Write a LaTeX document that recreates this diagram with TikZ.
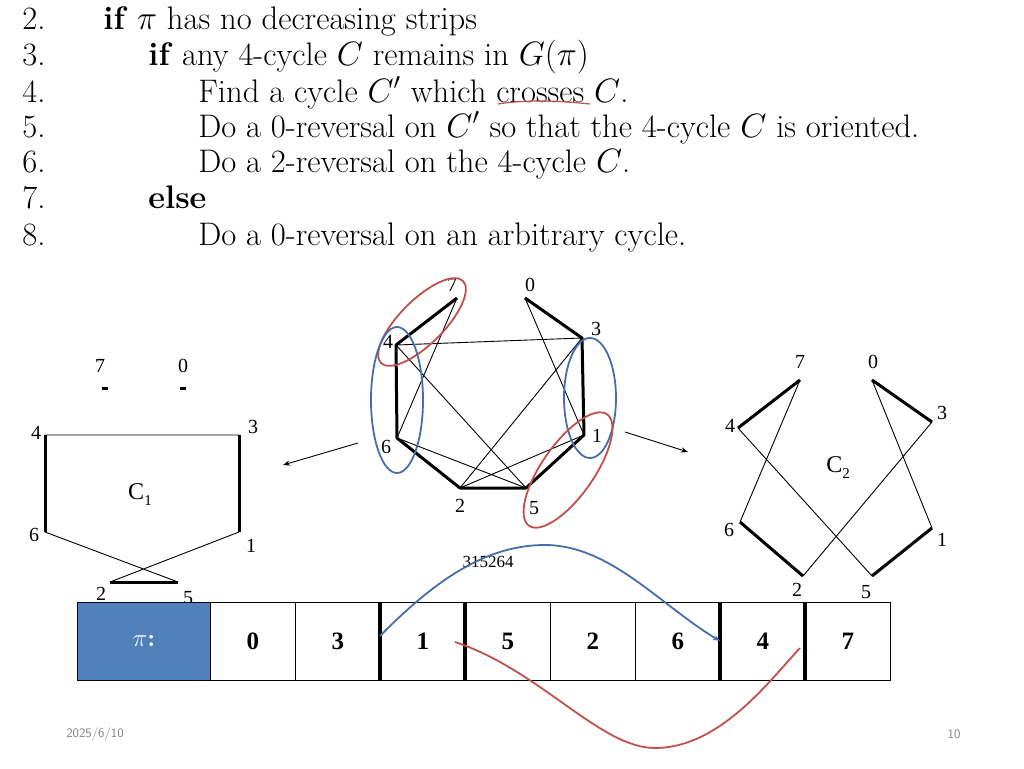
\documentclass[tikz,border=0pt]{standalone}
\usepackage{fontspec}
\newfontfamily\tms{Liberation Serif}
\usetikzlibrary{arrows.meta}
\definecolor{myred}{RGB}{192,80,77}
\definecolor{myblue}{RGB}{70,110,170}
\definecolor{pifill}{RGB}{79,129,189}
\begin{document}
\begin{tikzpicture}[x=1pt,y=-1pt,
 code/.style={anchor=base west,inner sep=0pt,font=\fontsize{20}{24}\selectfont,scale=1.63,transform shape},
 lab/.style={inner sep=0pt,font=\tms\fontsize{20}{22}\selectfont},
 thk/.style={line width=3pt},
 thn/.style={line width=0.9pt},
 cell/.style={draw,line width=0.8pt,minimum width=85pt,minimum height=78pt,anchor=north west,inner sep=0pt,font=\tms\bfseries\fontsize{25}{28}\selectfont},
 bar/.style={line width=3.5pt},
 rell/.style={draw=myred,line width=1.8pt},
 bell/.style={draw=myblue,line width=1.8pt}]
\useasboundingbox (0,0) rectangle (1024,768);
% pseudocode
\foreach \n/\y in {2/30,3/66,4/102,5/137,6/172,7/208,8/245}
  \node[code] (num\n) at (22,\y) {\n.};
\node[code] (l2) at (103,30) {\textbf{if} $\pi$ has no decreasing strips};
\node[code] (l3) at (148,66) {\textbf{if} any 4-cycle $C$ remains in $G(\pi)$};
\node[code] (l4) at (198,102) {Find a cycle $C'$ which crosses $C$.};
\node[code] (l5) at (198,137) {Do a 0-reversal on $C'$ so that the 4-cycle $C$ is oriented.};
\node[code] (l6) at (198,172) {Do a 2-reversal on the 4-cycle $C$.};
\node[code] (l7) at (148,208) {\textbf{else}};
\node[code] (l8) at (198,245) {Do a 0-reversal on an arbitrary cycle.};
\draw[myred,line width=1.2pt] (498,104) .. controls (530,99) and (560,101) .. (590,104);
% middle graph
\foreach \n/\x/\y in {7/457/298,0/525/298,4/396/345,3/582/338,6/397/438,1/584/435,2/460/488,5/526/488}
  \coordinate (m\n) at (\x,\y);
\foreach \n/\x/\y in {7/452/285,0/530/285,4/388/342,3/596/329,6/386/447,1/597/436,2/460/506,5/534/508}
  \node[lab] (ml\n) at (\x,\y) {\n};
\draw[thk,line join=round] (m7)--(m4)--(m6)--(m2)--(m5)--(m1)--(m3)--(m0);
\draw[thn] (m4)--(m3) (m7)--(m6) (m4)--(m5) (m6)--(m5) (m2)--(m3) (m2)--(m1) (m0)--(m1);
\draw[rell,rotate around={45:(422,322)}] (422,322) ellipse (58 and 22);
\draw[bell] (397,400) ellipse (26 and 73);
\draw[bell] (590,398) ellipse (26 and 60);
\draw[rell,rotate around={55:(568,470)}] (568,470) ellipse (68 and 26);
\coordinate (a1s) at (358,443); \coordinate (a1e) at (283,465);
\coordinate (a2s) at (625,432); \coordinate (a2e) at (688,452);
\draw[thn,-{Stealth[length=7pt]}] (a1s)--(a1e);
\draw[thn,-{Stealth[length=7pt]}] (a2s)--(a2e);
% left C1
\foreach \n/\x/\y in {4/45/435,3/239/435,6/45/532,1/239/532,2/110/582,5/178/582}
  \coordinate (lf\n) at (\x,\y);
\foreach \n/\x/\y in {7/100/366,0/183/366,4/36/433,3/253/427,6/34/535,1/251/546,2/101/594,5/188/598}
  \node[lab] (ll\n) at (\x,\y) {\n};
\draw[line width=3pt] (102,388)--(108,388) (180,388)--(186,388);
\draw[thn] (lf4)--(lf3) (lf6)--(lf5) (lf1)--(lf2);
\draw[thk] (lf4)--(lf6) (lf3)--(lf1) (lf2)--(lf5);
\node[lab,font=\tms\fontsize{24}{26}\selectfont] (cyc1) at (140,495) {C\raisebox{-6pt}{\fontsize{15}{16}\selectfont 1}};
% right C2
\foreach \n/\x/\y in {7/800/380,0/872/380,4/738/428,3/932/422,6/740/522,1/932/528,2/803/576,5/872/576}
  \coordinate (r\n) at (\x,\y);
\foreach \n/\x/\y in {7/800/362,0/873/362,4/730/426,3/942/413,6/729/530,1/942/540,2/797/590,5/866/592}
  \node[lab] (rl\n) at (\x,\y) {\n};
\draw[thk] (r7)--(r4) (r0)--(r3) (r6)--(r2) (r5)--(r1);
\draw[thn] (r7)--(r6) (r4)--(r5) (r0)--(r1) (r3)--(r2);
\node[lab,font=\tms\fontsize{24}{26}\selectfont] (cyc2) at (838,468) {C\raisebox{-6pt}{\fontsize{15}{16}\selectfont 2}};
% array
\node[cell,fill=pifill,minimum width=133pt,text=white,font=\fontsize{25}{28}\selectfont] (pi) at (77,602) {$\pi$\textbf{:}};
\foreach \v [count=\i] in {0,3,1,5,2,6,4,7}
  \node[cell] (c\i) at ({210+85*(\i-1)},602) {\v};
\draw[bar] (c3.north west)--(c3.south west) (c4.north west)--(c4.south west)
  (c7.north west)--(c7.south west) (c8.north west)--(c8.south west);
\node[lab,font=\tms\fontsize{17}{18}\selectfont] (perm) at (488,562) {315264};
\coordinate (b1) at (380,636); \coordinate (b2) at (720,641);
\draw[myblue,line width=1.8pt,-{Stealth[length=7pt]}] (b1) .. controls (440,575) and (490,545) .. (545,545) .. controls (610,545) and (660,605) .. (b2);
\coordinate (r1s) at (455,642); \coordinate (r2s) at (800,648);
\draw[myred,line width=1.8pt] (r1s) .. controls (540,670) and (600,748) .. (655,748) .. controls (720,748) and (770,680) .. (r2s);
% footer
\node[font=\sffamily\fontsize{13}{15}\selectfont,text=gray] (date) at (95,734) {2025/6/10};
\node[font=\sffamily\fontsize{13}{15}\selectfont,text=gray] (pg) at (954,734) {10};
\end{tikzpicture}
\end{document}
